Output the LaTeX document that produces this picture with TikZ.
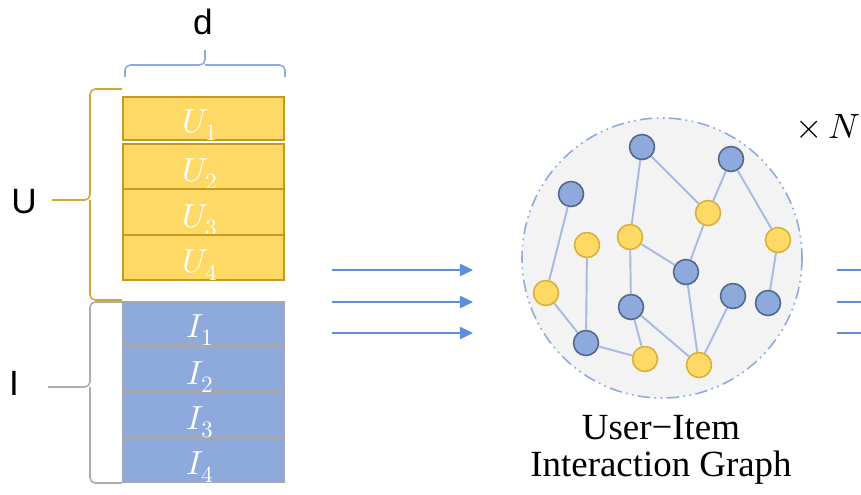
\documentclass[tikz,border=0pt]{standalone}
\usepackage{fontspec}
\usepackage{unicode-math}
\setmainfont{Liberation Serif}
\newfontfamily\sidefont{Liberation Sans}
\usetikzlibrary{arrows.meta}

\definecolor{ufill}{HTML}{FFD966}
\definecolor{uline}{HTML}{C49A22}
\definecolor{ifill}{HTML}{8EA9DB}
\definecolor{iline}{HTML}{A3A8B3}
\definecolor{bracegold}{HTML}{D0A83A}
\definecolor{braceblue}{HTML}{8FAADC}
\definecolor{bracegray}{HTML}{ADADAD}
\definecolor{flowblue}{HTML}{5B8EDC}
\definecolor{gnodeblue}{HTML}{8EA9DB}
\definecolor{gnodeedge}{HTML}{52688A}
\definecolor{gnodegold}{HTML}{FFD966}
\definecolor{gnodegoldedge}{HTML}{D8B03C}
\definecolor{gedgeblue}{HTML}{A7BADF}
\definecolor{circfill}{HTML}{F3F3F4}

\tikzset{
  ublock/.style={draw=uline,fill=ufill,line width=1.1pt},
  blocklabel/.style={text=white,anchor=base,inner sep=0pt,font=\fontsize{19}{22}\selectfont},
  sidelabel/.style={font=\sidefont\fontsize{20}{24}\selectfont,inner sep=0pt},
  bracepath/.style={line width=0.9pt,rounded corners=3pt},
  flow/.style={draw=flowblue,line width=1.1pt,-{Triangle[length=7.5pt,width=7pt]}},
  unode/.style={circle,draw=gnodeedge,fill=gnodeblue,line width=0.9pt,minimum size=0.5cm,inner sep=0pt},
  inode/.style={circle,draw=gnodegoldedge,fill=gnodegold,line width=0.9pt,minimum size=0.5cm,inner sep=0pt},
  gedge/.style={draw=gedgeblue,line width=1.1pt}
}

\begin{document}
\begin{tikzpicture}[x=0.02cm,y=-0.02cm]
  \useasboundingbox (0,0) rectangle (861,494);
  \clip (0,0) rectangle (861,494);

  % embedding tables
  \foreach \i/\t/\b in {1/97/140,2/144/189,3/189/235,4/235/280}
    \draw[ublock] (123,\t) rectangle (284,\b) node[blocklabel] (u\i) at (200,\b-8) {$U_{\i}$};

  \draw[draw=iline,fill=ifill,line width=0.6pt] (123,302) rectangle (284,482);
  \foreach \s in {345,392,437}
    \draw[draw=iline,line width=2pt] (123,\s) -- (284,\s);
  \foreach \i/\b in {1/345,2/392,3/437,4/482}
    \node[blocklabel] (i\i) at (200,\b-8) {$I_{\i}$};

  % braces
  \draw[bracepath,braceblue] (125,77) |- (205,65) -- (205,50);
  \draw[bracepath,braceblue] (285,77) |- (205,65);
  \draw[bracepath,bracegold] (122,89) -| (90,200) -- (52,200);
  \draw[bracepath,bracegold] (122,300) -| (90,200);
  \draw[bracepath,bracegray] (122,302) -| (90,387) -- (48,387);
  \draw[bracepath,bracegray] (122,483) -| (90,387);

  \node[sidelabel] (dlab) at (203,22) {d};
  \node[sidelabel] (ulab) at (24,202) {U};
  \node[sidelabel] (ilab) at (14,383) {I};

  % arrows
  \foreach \k/\yy in {1/270,2/302,3/333} {
    \coordinate (in\k) at (332,\yy);
    \coordinate (out\k) at (473,\yy);
    \draw[flow] (in\k) -- (out\k);
    \coordinate (nx\k) at (837,\yy);
    \coordinate (ny\k) at (978,\yy);
    \draw[flow] (nx\k) -- (ny\k);
  }

  % graph
  \draw[fill=circfill,draw=braceblue,line width=0.9pt,
        dash pattern=on 7pt off 2.5pt on 1pt off 2.5pt on 1pt off 2.5pt]
    (662,258) circle [radius=140];

  \foreach \n/\x/\y in {b1/642/147,b2/731/159,b3/571/194,b4/686/272,
                        b5/631/307,b6/733/296,b7/768/303,b8/586/343}
    \node[unode] (\n) at (\x,\y) {};
  \foreach \n/\x/\y in {y1/708/213,y2/630/237,y3/587/245,y4/778/240,
                        y5/546/293,y6/645/359,y7/699/365}
    \node[inode] (\n) at (\x,\y) {};

  \foreach \a/\b in {b1/y2,b1/y1,b2/y1,b2/y4,b3/y5,y3/b8,y2/b5,y2/b4,
                     y1/b4,y4/b7,y5/b8,b8/y6,b5/y6,b5/y7,b4/y7,b6/y7}
    \draw[gedge] (\a) -- (\b);

  \node[font=\fontsize{20}{24}\selectfont] (times) at (828,126) {$\times\,N$};
  \node[align=center,font=\fontsize{21}{21}\selectfont,inner sep=0pt] (gcap) at (661,450)
    {User−Item\\Interaction Graph};
\end{tikzpicture}
\end{document}
